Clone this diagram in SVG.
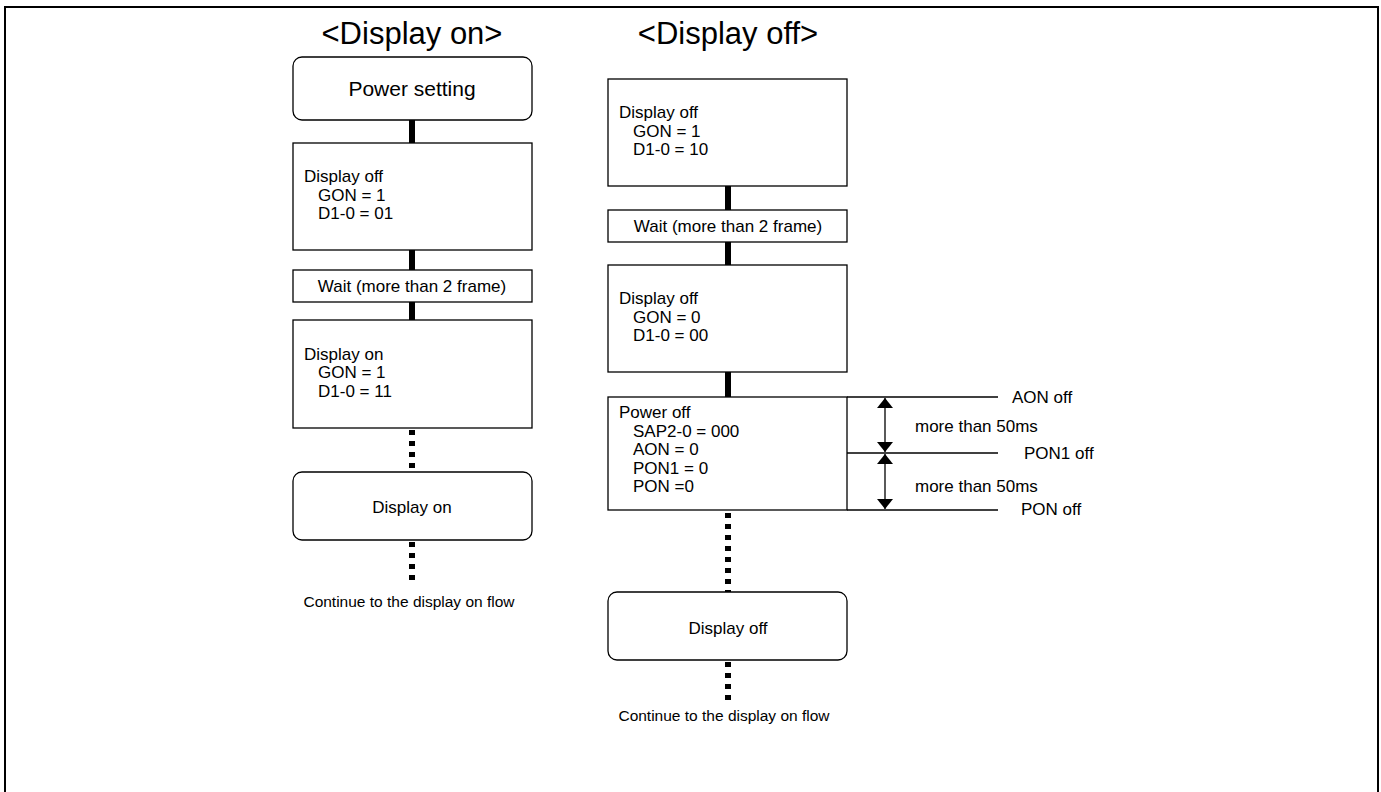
<svg xmlns="http://www.w3.org/2000/svg" width="1381" height="792" viewBox="0 0 1381 792">
<defs>
<style>
text{font-family:"Liberation Sans",Arial,sans-serif;fill:#000}
.title{font-size:31px;text-anchor:middle}
.t{font-size:17px}
.c{font-size:17px;text-anchor:middle}
.big{font-size:21px;text-anchor:middle}
.small{font-size:15.5px;text-anchor:middle}
.box{fill:#fff;stroke:#000;stroke-width:1.3}
.thick{stroke:#000;stroke-width:6;fill:none}
.dot{stroke:#000;stroke-width:6;fill:none;stroke-dasharray:5 6}
.thin{stroke:#000;stroke-width:1.3;fill:none}
</style>
<marker id="ah" viewBox="0 0 10 16" refX="10" refY="8" markerWidth="10" markerHeight="16" markerUnits="userSpaceOnUse" orient="auto-start-reverse">
<path d="M0,0 L10,8 L0,16 Z" fill="#000"/>
</marker>
</defs>
<rect x="0" y="0" width="1381" height="792" fill="#fff"/>
<rect x="5" y="7" width="1373" height="800" fill="none" stroke="#000" stroke-width="2"/>

<text class="title" x="412" y="44">&lt;Display on&gt;</text>
<text class="title" x="728" y="44">&lt;Display off&gt;</text>

<g id="connectors">
<line class="thick" x1="412" y1="120" x2="412" y2="143"/>
<line class="thick" x1="412" y1="250" x2="412" y2="270"/>
<line class="thick" x1="412" y1="302" x2="412" y2="320"/>
<line class="dot" x1="412" y1="430" x2="412" y2="472"/>
<line class="dot" x1="412" y1="542" x2="412" y2="582"/>
<line class="thick" x1="728" y1="186" x2="728" y2="210"/>
<line class="thick" x1="728" y1="242" x2="728" y2="265"/>
<line class="thick" x1="728" y1="372" x2="728" y2="397"/>
<line class="dot" x1="728" y1="513" x2="728" y2="592"/>
<line class="dot" x1="728" y1="662" x2="728" y2="704"/>
</g>

<g id="power-setting">
<rect class="box" x="293" y="57" width="239" height="63" rx="9"/>
<text class="big" x="412" y="96">Power setting</text>
</g>
<g id="on-display-off">
<rect class="box" x="293" y="143" width="239" height="107"/>
<text class="t" x="304" y="182">Display off</text>
<text class="t" x="318" y="200.5">GON = 1</text>
<text class="t" x="318" y="219">D1-0 = 01</text>
</g>
<g id="on-wait">
<rect class="box" x="293" y="270" width="239" height="32"/>
<text class="c" x="412" y="292">Wait (more than 2 frame)</text>
</g>
<g id="on-display-on">
<rect class="box" x="293" y="320" width="239" height="108"/>
<text class="t" x="304" y="359.5">Display on</text>
<text class="t" x="318" y="378">GON = 1</text>
<text class="t" x="318" y="396.5">D1-0 = 11</text>
</g>
<g id="on-end">
<rect class="box" x="293" y="472" width="239" height="68" rx="9"/>
<text class="c" x="412" y="513">Display on</text>
</g>
<g id="on-continue">
<text class="small" x="409" y="607">Continue to the display on flow</text>
</g>

<g id="off-display-off-1">
<rect class="box" x="608" y="79" width="239" height="107"/>
<text class="t" x="619" y="118">Display off</text>
<text class="t" x="633" y="136.5">GON = 1</text>
<text class="t" x="633" y="155">D1-0 = 10</text>
</g>
<g id="off-wait">
<rect class="box" x="608" y="210" width="239" height="32"/>
<text class="c" x="728" y="232">Wait (more than 2 frame)</text>
</g>
<g id="off-display-off-2">
<rect class="box" x="608" y="265" width="239" height="107"/>
<text class="t" x="619" y="304">Display off</text>
<text class="t" x="633" y="322.5">GON = 0</text>
<text class="t" x="633" y="341">D1-0 = 00</text>
</g>
<g id="off-power-off">
<rect class="box" x="608" y="397" width="239" height="113"/>
<text class="t" x="619" y="418">Power off</text>
<text class="t" x="633" y="436.5">SAP2-0 = 000</text>
<text class="t" x="633" y="455">AON = 0</text>
<text class="t" x="633" y="473.5">PON1 = 0</text>
<text class="t" x="633" y="492">PON =0</text>
</g>
<g id="timing">
<line class="thin" x1="847" y1="397" x2="998" y2="397"/>
<line class="thin" x1="847" y1="453" x2="998" y2="453"/>
<line class="thin" x1="847" y1="510" x2="998" y2="510"/>
<line class="thin" x1="885" y1="398" x2="885" y2="452" marker-start="url(#ah)" marker-end="url(#ah)"/>
<line class="thin" x1="885" y1="454" x2="885" y2="509" marker-start="url(#ah)" marker-end="url(#ah)"/>
<text class="t" x="1012" y="403">AON off</text>
<text class="t" x="1024" y="459">PON1 off</text>
<text class="t" x="1021" y="515">PON off</text>
<text class="t" x="915" y="432">more than 50ms</text>
<text class="t" x="915" y="492">more than 50ms</text>
</g>
<g id="off-end">
<rect class="box" x="608" y="592" width="239" height="68" rx="9"/>
<text class="c" x="728" y="634">Display off</text>
</g>
<g id="off-continue">
<text class="small" x="724" y="721">Continue to the display on flow</text>
</g>
</svg>
